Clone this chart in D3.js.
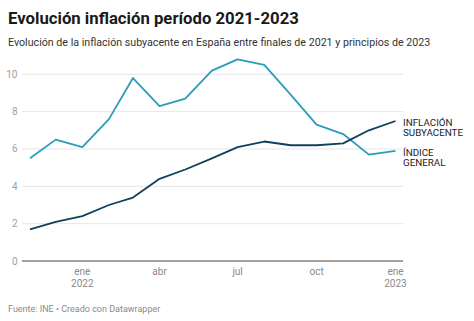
<!DOCTYPE html>
<html><head><meta charset="utf-8">
<script src="https://cdn.jsdelivr.net/npm/d3@7"></script>
<style>
html,body{margin:0;padding:0;background:#fff;}
svg{display:block;font-family:Roboto,"Noto Sans",sans-serif;}
</style></head>
<body>
<svg id="c" width="474" height="321"></svg>
<script>
const months = ["2021-11","2021-12","2022-01","2022-02","2022-03","2022-04","2022-05","2022-06","2022-07","2022-08","2022-09","2022-10","2022-11","2022-12","2023-01"];
const indiceGeneral = [5.5,6.5,6.1,7.6,9.8,8.3,8.7,10.2,10.8,10.5,8.9,7.3,6.8,5.7,5.9];
const subyacente = [1.7,2.1,2.4,3.0,3.4,4.4,4.9,5.5,6.1,6.4,6.2,6.2,6.3,7.0,7.5];
const yTicks = [0,2,4,6,8,10];
const xTicks = [["2022-01","ene","2022"],["2022-04","abr",""],["2022-07","jul",""],["2022-10","oct",""],["2023-01","ene","2023"]];
const seriesNames = [["INFLACIÓN","SUBYACENTE"],["ÍNDICE","GENERAL"]];

const parse = d3.timeParse("%Y-%m");
const dates = months.map(parse);
const svg = d3.select("#c");

const x = d3.scaleTime().domain([dates[0], dates[dates.length-1]]).range([30, 395.5]);
const y = d3.scaleLinear().domain([0,10]).range([261, 74.3]);
const gx0 = 22, gx1 = 403;

function fitText(sel, target, base){
  const w = sel.node().getComputedTextLength();
  sel.attr("font-size", base * target / w);
}

const title = svg.append("text").attr("x",8).attr("y",24).attr("font-size",17).attr("font-weight",700).attr("fill","#1a1a1a")
  .text("Evolución inflación período 2021-2023");
fitText(title, 291, 17);
const sub = svg.append("text").attr("x",8).attr("y",46).attr("font-size",12).attr("fill","#333")
  .text("Evolución de la inflación subyacente en España entre finales de 2021 y principios de 2023");
fitText(sub, 423, 12);

// grid
svg.append("g").selectAll("line").data(yTicks.filter(d=>d>0)).join("line")
  .attr("x1",gx0).attr("x2",gx1).attr("y1",d=>y(d)).attr("y2",d=>y(d))
  .attr("stroke","#e6e6e6").attr("stroke-width",1);
svg.append("g").selectAll("text").data(yTicks).join("text")
  .attr("x",17.5).attr("y",d=>y(d)+3.5).attr("text-anchor","end")
  .attr("font-size",10).attr("fill","#a0a0a0").text(d=>d);

// x labels
const xl = svg.append("g");
xTicks.forEach(t=>{
  const xx = x(parse(t[0]));
  const tx = xl.append("text").attr("text-anchor","middle").attr("font-size",10).attr("fill","#8a8a8a");
  tx.append("tspan").attr("x",xx).attr("y",275).text(t[1]);
  if(t[2]) tx.append("tspan").attr("x",xx).attr("y",286.5).text(t[2]);
});

const line = d3.line().x((d,i)=>x(dates[i])).y(d=>y(d));
svg.append("path").datum(indiceGeneral).attr("d",line).attr("fill","none").attr("stroke","#2b9cba").attr("stroke-width",1.8).attr("stroke-linejoin","round");
svg.append("path").datum(subyacente).attr("d",line).attr("fill","none").attr("stroke","#123f5a").attr("stroke-width",1.8).attr("stroke-linejoin","round");

// zero axis
svg.append("line").attr("x1",gx0).attr("x2",gx1).attr("y1",y(0)).attr("y2",y(0)).attr("stroke","#444").attr("stroke-width",1);

// series labels
const lab = svg.append("g").attr("font-size",9.8).attr("fill","#222");
const l1 = lab.append("text");
l1.append("tspan").attr("x",403).attr("y",125.5).text(seriesNames[0][0]);
l1.append("tspan").attr("x",403).attr("y",136.3).text(seriesNames[0][1]);
const l2 = lab.append("text");
l2.append("tspan").attr("x",403).attr("y",155.5).text(seriesNames[1][0]);
l2.append("tspan").attr("x",403).attr("y",166.3).text(seriesNames[1][1]);

svg.append("text").attr("x",8).attr("y",311.5).attr("font-size",9).attr("fill","#8a8a8a")
  .text("Fuente: INE • Creado con Datawrapper");
</script>
</body></html>
